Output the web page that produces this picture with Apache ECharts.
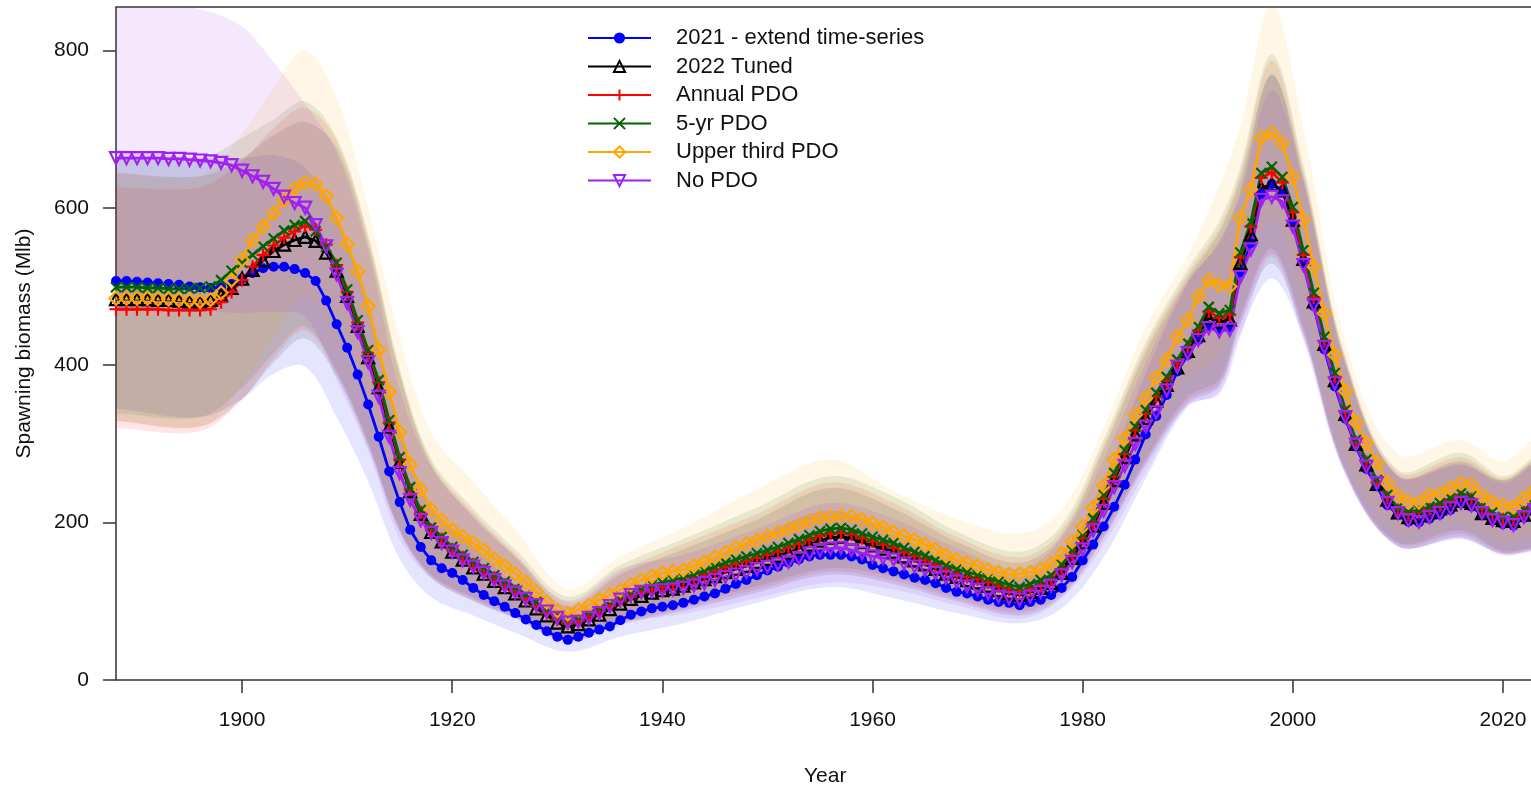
<!DOCTYPE html>
<html>
<head>
<meta charset="utf-8">
<title>Spawning biomass</title>
<script src="https://cdn.jsdelivr.net/npm/echarts@6/dist/echarts.min.js"></script>
<style>
  html, body { margin: 0; padding: 0; background: #fff; }
  #chart { width: 1531px; height: 788px; }
</style>
</head>
<body>
<div id="chart"></div>
<script>
// Spawning biomass (Mlb) by year, 1888-2023, one value per year for each model run
const firstYear = 1888;

const extendSeries = [
  507,507,506,505,504,503,502,500,499,498,
  499,503,510,517,523,525,525,522,517,507,
  482,452,422,388,350,309,265,226,191,169,
  152,142,136,127,117,108,100,93,85,77,
  70,62,55,51,55,60,64,68,76,83,
  87,91,93,95,98,102,106,110,116,122,
  127,133,139,144,149,153,157,159,159,159,
  157,153,146,142,138,134,130,127,123,117,
  112,110,106,102,99,98,95,99,102,108,
  117,131,152,172,195,220,248,280,312,335,
  362,392,413,432,450,446,448,518,555,618,
  630,622,582,530,475,420,373,332,297,268,
  246,222,210,201,200,205,210,216,224,220,
  210,202,198,196,206,216
];
const tuned2022 = [
  484,484,484,484,483,483,482,481,481,483,
  489,498,510,521,533,545,553,559,563,558,
  543,520,488,450,410,372,322,277,240,211,
  188,176,163,153,143,135,126,118,110,101,
  91,82,73,68,71,77,83,90,97,103,
  107,111,114,116,120,124,128,132,137,141,
  145,150,154,158,162,167,172,177,181,182,
  180,175,171,167,163,157,152,147,141,135,
  131,127,124,120,114,110,108,112,117,123,
  136,155,175,196,225,254,283,312,333,355,
  375,397,418,438,460,455,458,530,566,625,
  630,622,585,535,481,427,381,338,300,274,
  249,229,213,207,209,213,218,223,228,225,
  212,206,203,202,210,218
];
const annualPDO = [
  471,471,471,471,471,470,470,470,470,471,
  480,493,508,525,540,552,562,570,577,572,
  553,527,493,454,416,378,327,280,242,213,
  191,179,166,156,147,139,130,121,113,104,
  94,85,77,72,75,81,87,94,100,106,
  111,115,118,121,125,129,133,138,143,147,
  151,155,159,163,168,173,178,183,186,187,
  185,180,176,172,168,162,157,152,146,140,
  135,131,128,124,119,115,113,116,121,127,
  141,160,180,200,230,258,287,317,338,360,
  380,402,423,444,468,460,464,537,576,638,
  645,632,594,540,486,431,385,340,302,277,
  251,232,216,210,213,217,222,228,234,230,
  217,210,205,204,213,220
];
const fiveYrPDO = [
  499,499,499,498,498,497,497,497,498,500,
  508,520,530,540,551,561,571,578,583,570,
  550,530,496,457,419,381,330,283,245,216,
  194,182,169,159,150,142,133,125,117,108,
  99,90,81,77,80,86,92,99,106,112,
  117,121,124,127,130,134,139,144,149,153,
  157,161,165,169,174,179,184,189,192,193,
  191,186,182,178,174,168,163,158,152,146,
  141,137,134,130,125,121,118,122,127,133,
  146,165,185,205,235,263,292,322,343,365,
  385,407,428,449,474,466,470,543,582,644,
  652,639,601,546,492,436,390,343,305,280,
  254,235,219,213,216,220,225,231,237,233,
  220,213,207,207,216,222
];
const upperThirdPDO = [
  485,485,485,485,484,484,483,482,481,483,
  492,508,534,559,576,593,610,624,632,630,
  615,587,554,519,475,420,366,315,274,242,
  217,203,191,182,174,165,154,145,135,124,
  112,99,88,84,89,95,102,108,114,121,
  127,132,136,138,140,145,150,156,162,168,
  173,178,183,187,192,197,202,206,207,208,
  208,204,199,194,188,183,178,172,166,158,
  153,149,145,140,137,134,135,137,140,148,
  160,176,195,219,247,280,307,337,358,384,
  407,436,457,487,508,502,500,587,623,689,
  695,682,639,585,525,466,413,367,327,301,
  276,250,235,226,226,235,237,244,250,248,
  235,226,222,220,231,241
];
const noPDO = [
  663,663,663,663,663,662,662,661,660,659,
  657,654,647,640,633,624,614,606,600,578,
  551,515,479,442,404,360,309,263,229,203,
  187,174,163,152,144,136,127,119,111,103,
  95,87,79,73,74,79,85,94,102,108,
  112,113,114,115,117,120,123,127,131,134,
  137,141,144,147,150,155,161,165,167,168,
  165,161,157,155,153,148,144,140,136,130,
  125,119,115,110,106,104,102,106,112,120,
  133,150,166,190,215,245,272,300,322,340,
  368,398,415,432,447,443,445,512,547,610,
  614,608,576,527,476,423,377,334,299,271,
  250,225,212,203,201,207,212,218,225,222,
  212,203,200,197,207,216
];

// 95% interval bounds, given at these years
const bandYears = [1888,1896,1900,1903,1906,1909,1912,1915,1918,1922,1926,1931,1936,1942,1949,1956,
                   1962,1968,1974,1978,1982,1986,1990,1993,1995,1998,2001,2005,2010,2016,2020,2023];
const extendLo = [345,334,357,389,398,334,252,154,105,82,60,36,55,72,98,118,104,85,72,91,156,256,347,366,440,510,435,261,170,179,160,164];
const extendHi = [674,664,663,667,651,588,473,316,220,170,121,70,105,135,181,215,185,150,131,158,254,390,504,558,622,769,636,402,259,273,253,276];
const tunedLo  = [329,322,357,403,434,385,295,188,130,100,78,48,70,88,111,134,122,100,82,106,180,273,351,373,451,529,439,264,170,182,160,166];
const tunedHi  = [644,640,663,692,709,676,554,388,273,207,156,94,134,166,204,244,218,176,149,184,293,416,510,569,636,769,642,406,260,278,254,279];
const annualLo = [320,316,356,408,444,390,300,190,132,103,80,51,72,91,115,138,126,103,86,110,184,277,355,377,456,542,443,265,173,186,162,167];
const annualHi = [626,626,660,701,727,685,562,392,277,213,160,99,138,173,211,251,225,182,156,190,299,423,516,575,644,787,648,408,264,283,256,282];
const fiveYrLo = [339,334,371,415,449,392,302,192,134,105,83,55,76,95,119,142,131,107,90,114,188,281,360,382,462,548,448,268,175,190,164,169];
const fiveYrHi = [664,662,689,712,735,689,566,396,281,218,166,106,146,179,219,259,233,189,163,197,306,429,522,583,652,795,655,412,267,289,259,284];
const upperLo  = [330,322,374,439,487,434,342,214,150,122,96,60,82,102,132,153,141,116,103,125,198,294,384,412,499,584,480,286,188,200,175,183];
const upperHi  = [645,640,694,753,800,740,600,435,315,252,192,116,157,193,242,280,240,205,186,216,321,448,540,628,704,858,702,430,287,305,278,308];
const noPdoLo  = [470,469,466,468,462,381,291,179,129,101,79,52,73,84,104,124,115,95,78,104,172,264,349,363,435,538,432,261,170,180,158,164];
const noPdoHi  = [870,852,830,785,732,670,545,368,271,209,158,101,141,159,192,225,205,168,141,180,280,403,506,554,614,749,632,401,259,275,250,276];

const xTicks = [1900, 1920, 1940, 1960, 1980, 2000, 2020];
const yTicks = [0, 200, 400, 600, 800];

const FONT = '"Liberation Sans", Arial, sans-serif';

const runs = [
  { name: '2021 - extend time-series', color: '#0000ff', band: 'rgba(0,0,255,0.10)',
    values: extendSeries, lo: extendLo, hi: extendHi, symbol: 'circle', size: 10, filled: true },
  { name: '2022 Tuned', color: '#000000', band: 'rgba(0,0,0,0.10)',
    values: tuned2022, lo: tunedLo, hi: tunedHi, symbol: 'path://M5,0L10,9L0,9Z', size: 12 },
  { name: 'Annual PDO', color: '#ff0000', band: 'rgba(255,0,0,0.10)',
    values: annualPDO, lo: annualLo, hi: annualHi, symbol: 'path://M5,0L5,10M0,5L10,5', size: 13 },
  { name: '5-yr PDO', color: '#006400', band: 'rgba(0,100,0,0.10)',
    values: fiveYrPDO, lo: fiveYrLo, hi: fiveYrHi, symbol: 'path://M0,0L10,10M10,0L0,10', size: 10 },
  { name: 'Upper third PDO', color: '#ffa500', band: 'rgba(255,165,0,0.10)',
    values: upperThirdPDO, lo: upperLo, hi: upperHi, symbol: 'path://M5,0L10,5L5,10L0,5Z', size: 13 },
  { name: 'No PDO', color: '#a020f0', band: 'rgba(160,32,240,0.10)',
    values: noPDO, lo: noPdoLo, hi: noPdoHi, symbol: 'path://M0,0L10,0L5,9Z', size: 12 }
];

// Closed outline of one interval band: upper edge left to right, lower edge back.
// Corner points are doubled so the smoothing keeps the ends square.
function bandOutline(api, lo, hi) {
  const up = bandYears.map(function (y, i) { return api.coord([y, hi[i]]); });
  const dn = bandYears.map(function (y, i) { return api.coord([y, lo[i]]); }).reverse();
  return [up[0]].concat(up, [up[up.length - 1]], [dn[0]], dn, [dn[dn.length - 1]]);
}

const series = [];

runs.forEach(function (r) {
  series.push({
    type: 'custom',
    coordinateSystem: 'cartesian2d',
    silent: true,
    clip: true,
    data: [[1950, 400]],
    encode: { x: 0, y: 1 },
    renderItem: function (params, api) {
      return {
        type: 'polygon',
        shape: { points: bandOutline(api, r.lo, r.hi), smooth: 0.35 },
        style: { fill: r.band, stroke: null }
      };
    }
  });
});

// yearly estimates with markers
runs.forEach(function (r) {
  series.push({
    name: r.name,
    type: 'line',
    symbol: r.symbol,
    symbolSize: r.size,
    showAllSymbol: true,
    lineStyle: { color: r.color, width: 2.8 },
    itemStyle: r.filled
      ? { color: r.color, borderWidth: 0 }
      : { color: 'rgba(0,0,0,0)', borderColor: r.color, borderWidth: 2.2 },
    emphasis: { disabled: true },
    data: r.values.map(function (v, i) { return [firstYear + i, v]; })
  });
});

const chart = echarts.init(document.getElementById('chart'), null, { renderer: 'canvas' });
chart.setOption({
  animation: false,
  backgroundColor: '#ffffff',
  grid: {
    left: 116, right: -3.5, top: 7, bottom: 108,
    outerBoundsMode: 'none',
    show: true, borderColor: '#333333', borderWidth: 1.5, backgroundColor: 'transparent'
  },
  legend: {
    data: runs.map(function (r) { return r.name; }),
    orient: 'vertical',
    left: 582, top: 22,
    itemWidth: 63, itemHeight: 14, itemGap: 6.5,
    selectedMode: false,
    textStyle: { fontFamily: FONT, fontSize: 22, color: '#111111', lineHeight: 22, padding: [0, 0, 0, 20] }
  },
  xAxis: {
    type: 'value', min: 1888, max: 2023,
    name: 'Year', nameLocation: 'middle', nameGap: 86,
    nameTextStyle: { fontFamily: FONT, fontSize: 21, color: '#111111' },
    axisLine: { show: false },
    axisTick: { show: true, customValues: xTicks, length: 13, lineStyle: { color: '#333333', width: 1.5 } },
    axisLabel: { customValues: xTicks, margin: 30, fontFamily: FONT, fontSize: 21, color: '#111111',
                 formatter: function (v) { return String(v); } },
    splitLine: { show: false }
  },
  yAxis: {
    type: 'value', min: 0, max: 855,
    name: 'Spawning biomass (Mlb)', nameLocation: 'middle', nameGap: 81, nameRotate: 90,
    nameTextStyle: { fontFamily: FONT, fontSize: 21, color: '#111111' },
    axisLine: { show: false },
    axisTick: { show: true, customValues: yTicks, length: 13, lineStyle: { color: '#333333', width: 1.5 } },
    axisLabel: { customValues: yTicks, margin: 27, fontFamily: FONT, fontSize: 21, color: '#111111',
                 formatter: function (v) { return String(v); } },
    splitLine: { show: false }
  },
  series: series
});
</script>
</body>
</html>
